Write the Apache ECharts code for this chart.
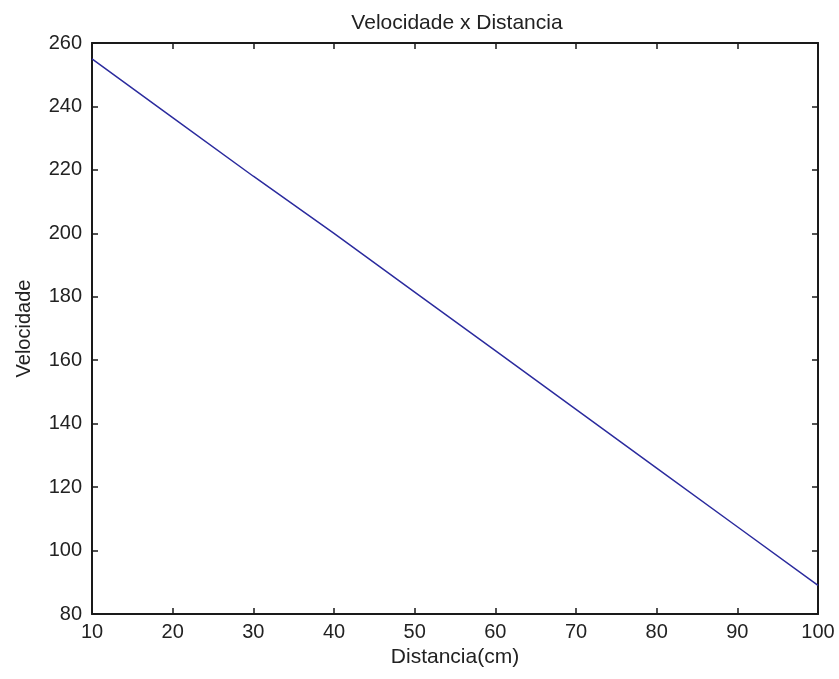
<!DOCTYPE html>
<html>
<head>
<meta charset="utf-8">
<script src="https://cdn.jsdelivr.net/npm/echarts@6/dist/echarts.min.js"></script>
<style>
  html, body { margin: 0; padding: 0; background: #fff; }
  #chart { width: 839px; height: 679px; }
</style>
</head>
<body>
<div id="chart"></div>
<script>
// distance (cm) and speed
const distancia = [10, 20, 30, 40, 50, 60, 70, 80, 90, 100];
const velocidade = [255, 236.5, 218, 200, 181.5, 163, 144.5, 126, 107.5, 89];
const xTicks = [10, 20, 30, 40, 50, 60, 70, 80, 90, 100];
const yTicks = [80, 100, 120, 140, 160, 180, 200, 220, 240, 260];

const chart = echarts.init(document.getElementById('chart'));
const font = 'Liberation Sans, Arial, sans-serif';

const axisBase = {
  axisLine: { show: true, onZero: false, lineStyle: { color: '#1a1a1a', width: 2 } },
  axisTick: { show: true, inside: true, length: 6, lineStyle: { color: '#1a1a1a', width: 1.5 } },
  splitLine: { show: false }
};

chart.setOption({
  animation: false,
  title: {
    text: 'Velocidade x Distancia',
    left: 452, top: 8, textAlign: 'center',
    textStyle: { fontFamily: font, fontSize: 21, fontWeight: 'normal', color: '#222' }
  },
  grid: { left: 92, right: 21, top: 43, bottom: 65 },
  xAxis: [
    Object.assign({
      type: 'value', min: xTicks[0], max: xTicks[xTicks.length - 1], interval: 10,
      name: 'Distancia(cm)', nameLocation: 'middle', nameGap: 30,
      nameTextStyle: { fontFamily: font, fontSize: 21, color: '#222' },
      axisLabel: { fontFamily: font, fontSize: 20, color: '#222', margin: 8 }
    }, axisBase),
    Object.assign({
      type: 'value', min: xTicks[0], max: xTicks[xTicks.length - 1], interval: 10, position: 'top',
      axisLabel: { show: false }
    }, axisBase)
  ],
  yAxis: [
    Object.assign({
      type: 'value', min: yTicks[0], max: yTicks[yTicks.length - 1], interval: 20,
      name: 'Velocidade', nameLocation: 'middle', nameGap: 58,
      nameTextStyle: { fontFamily: font, fontSize: 20, color: '#222' },
      axisLabel: { fontFamily: font, fontSize: 20, color: '#222', margin: 10 }
    }, axisBase),
    Object.assign({
      type: 'value', min: yTicks[0], max: yTicks[yTicks.length - 1], interval: 20, position: 'right',
      axisLabel: { show: false }
    }, axisBase)
  ],
  series: [{
    type: 'line',
    data: distancia.map((d, i) => [d, velocidade[i]]),
    showSymbol: false,
    lineStyle: { color: '#2b2b9e', width: 1.5 }
  }]
});
</script>
</body>
</html>
